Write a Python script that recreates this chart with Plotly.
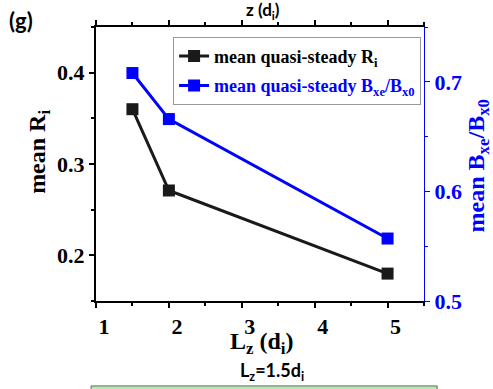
import plotly.graph_objects as go

lz = [1.5, 2.0, 5.0]
ri_mean = [0.36, 0.271, 0.18]
bxe_mean = [0.708, 0.666, 0.557]

x_ticks = [1, 2, 3, 4, 5]
y1_ticks = [0.2, 0.3, 0.4]
y2_ticks = [0.5, 0.6, 0.7]

SERIF = "Liberation Serif, Times New Roman, serif"
SANS = "Lato, Open Sans, sans-serif"
BLUE = "#0000ff"

fig = go.Figure()
fig.add_trace(go.Scatter(
    x=lz, y=ri_mean, mode="lines+markers", name="mean quasi-steady R<sub>i</sub>",
    line=dict(color="#1a1a1a", width=3),
    marker=dict(symbol="square", size=12, color="#1a1a1a"),
    legendgroup="a", yaxis="y"))
fig.add_trace(go.Scatter(
    x=lz, y=bxe_mean, mode="lines+markers",
    name='<span style="color:#0000ff">mean quasi-steady B<sub>xe</sub>/B<sub>x0</sub></span>',
    line=dict(color=BLUE, width=3),
    marker=dict(symbol="square", size=12, color=BLUE),
    legendgroup="b", yaxis="y2"))

fig.update_layout(
    width=493, height=389,
    margin=dict(l=96, r=69, t=27, b=88, autoexpand=False),
    paper_bgcolor="white", plot_bgcolor="white",
    showlegend=True,
    legend=dict(x=0.235, y=0.964, xanchor="left", yanchor="top",
                bgcolor="white", bordercolor="#999999", borderwidth=1,
                font=dict(family=SERIF, size=18, color="black", weight="bold"),
                tracegroupgap=3, itemwidth=30),
    xaxis=dict(range=[1, 5.5], tickvals=x_ticks, ticktext=[str(v) for v in x_ticks],
               automargin=False,
               ticks="outside", ticklen=5, tickwidth=2, tickcolor="black",
               showline=True, linewidth=2, linecolor="black", mirror="ticks",
               showgrid=False, zeroline=False, ticklabelshift=8,
               minor=dict(dtick=0.5, ticks="outside", ticklen=3, tickwidth=2, tickcolor="black"),
               tickfont=dict(family=SERIF, size=22, color="black", weight="bold")),
    yaxis=dict(range=[0.15, 0.45], tickvals=y1_ticks, ticktext=["0.2", "0.3", "0.4"],
               automargin=False,
               ticks="outside", ticklen=5, tickwidth=2, tickcolor="black",
               showline=True, linewidth=2, linecolor="black",
               showgrid=False, zeroline=False,
               minor=dict(dtick=0.05, ticks="outside", ticklen=3, tickwidth=2, tickcolor="black"),
               tickfont=dict(family=SERIF, size=22, color="black", weight="bold")),
    yaxis2=dict(range=[0.5, 0.75], tickvals=y2_ticks, ticktext=["0.5", "0.6", "0.7"],
                overlaying="y", side="right", automargin=False,
                ticks="outside", ticklen=5, tickwidth=1, tickcolor=BLUE,
                showline=True, linewidth=1, linecolor=BLUE,
                showgrid=False, zeroline=False,
                minor=dict(dtick=0.05, ticks="outside", ticklen=3, tickwidth=1, tickcolor=BLUE),
                tickfont=dict(family=SERIF, size=22, color=BLUE, weight="bold")),
    annotations=[
        dict(text="L<sub>z</sub> (d<sub>i</sub>)", xref="paper", yref="paper", x=0.505, y=-0.09,
             xanchor="center", yanchor="top", showarrow=False,
             font=dict(family=SERIF, size=24, color="black", weight="bold")),
        dict(text="mean R<sub>i</sub>", xref="paper", yref="paper", x=-0.174, y=0.544,
             xanchor="center", yanchor="middle", showarrow=False, textangle=-90,
             font=dict(family=SERIF, size=24, color="black", weight="bold")),
        dict(text="mean B<sub>xe</sub>/B<sub>x0</sub>", xref="paper", yref="paper", x=1.163, y=0.493,
             xanchor="center", yanchor="middle", showarrow=False, textangle=-90,
             font=dict(family=SERIF, size=24, color=BLUE, weight="bold")),
        dict(text="<b>(g)</b>", xref="paper", yref="paper", x=-0.229, y=1.022,
             xanchor="center", yanchor="middle", showarrow=False,
             font=dict(family=SANS, size=22, color="black")),
        dict(text="<b>z (d<sub>i</sub>)</b>", xref="paper", yref="paper", x=0.509, y=1.058,
             xanchor="center", yanchor="middle", showarrow=False,
             font=dict(family=SANS, size=17, color="black")),
        dict(text="<b>L<sub>z</sub>=1.5d<sub>i</sub></b>", xref="paper", yref="paper", x=0.537, y=-0.258,
             xanchor="center", yanchor="middle", showarrow=False,
             font=dict(family=SANS, size=18, color="black")),
    ],
    shapes=[
        dict(type="rect", xref="paper", yref="paper", x0=-0.015, x1=1.04, y0=-0.36, y1=-0.31,
             fillcolor="#b3ecb0", line=dict(color="#666666", width=1)),
    ],
)

fig.write_html("out.html", config={"displayModeBar": False},
               post_script="document.body.style.margin='0';document.body.style.overflow='hidden';")
